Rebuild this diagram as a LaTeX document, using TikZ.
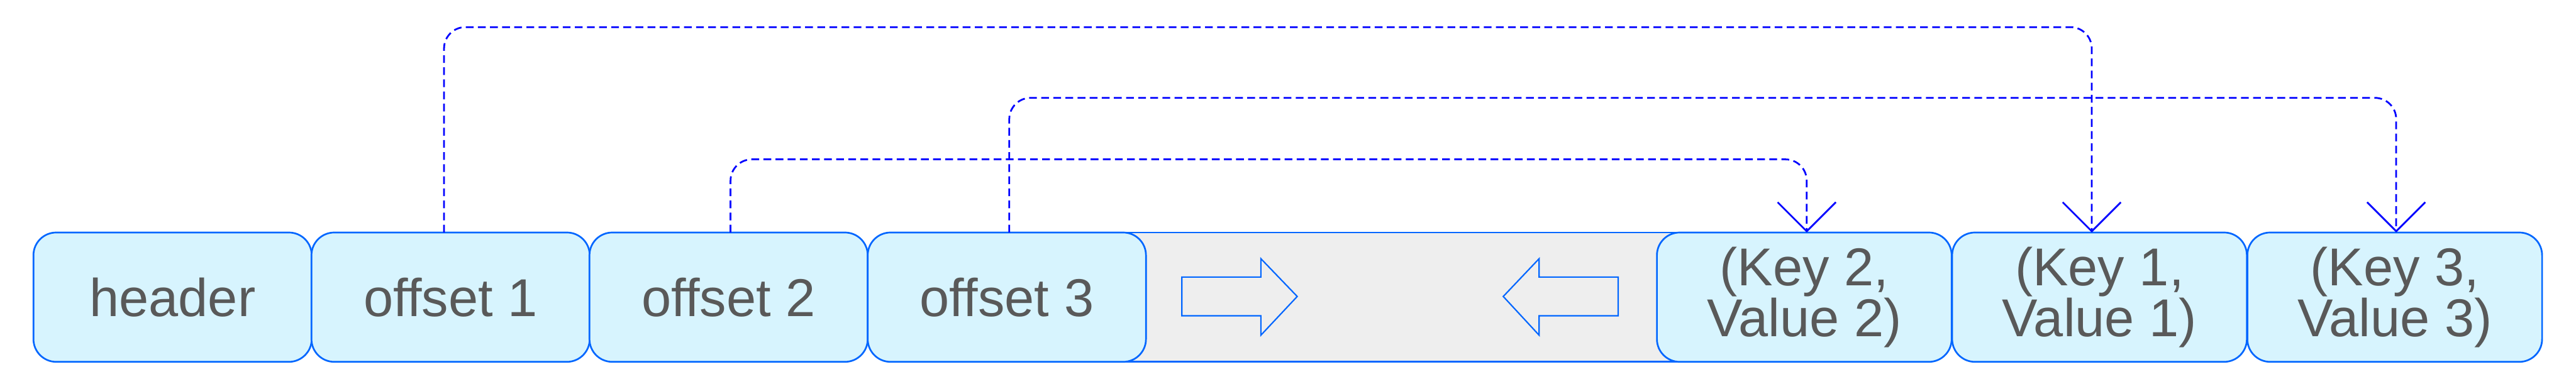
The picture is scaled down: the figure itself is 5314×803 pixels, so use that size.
\documentclass[tikz,border=0pt]{standalone}
\usepackage{fontspec}
\setmainfont{Liberation Sans}
\usetikzlibrary{arrows.meta,calc}
\definecolor{boxfill}{HTML}{D7F4FE}
\definecolor{boxline}{HTML}{0066FF}
\definecolor{linkblue}{HTML}{0000FF}
\definecolor{txtgray}{HTML}{595959}
\definecolor{freegray}{HTML}{EEEEEE}
\begin{document}
\begin{tikzpicture}[x=0.5pt,y=-0.5pt,
  cell/.style={draw=boxline, line width=1.75pt, fill=boxfill, rounded corners=23.5pt,
    minimum width=287pt, minimum height=133.5pt, inner sep=0pt, outer sep=0pt,
    text=txtgray, font=\fontsize{55}{50}\selectfont, align=center},
  kvcell/.style={cell, minimum width=304pt},
  link/.style={draw=linkblue, line width=1.8pt, dash pattern=on 8pt off 4.5pt,
    rounded corners=22pt, -{Straight Barb[length=30pt,width=60pt,line width=1.8pt]}},
  blockarrow/.style={draw=boxline, line width=1.4pt, line join=miter}]
\useasboundingbox (0,0) rectangle (5314,803);
% free space band
\fill[freegray] (2200,480) rectangle (3600,747);
\draw[boxline, line width=1.75pt] (2200,480) -- (3600,480) (2200,747) -- (3600,747);
% cells
\node[cell] (hdr) at (356,613.5) {header};
\node[cell] (o1) at (929.5,613.5) {offset 1};
\node[cell] (o2) at (1503,613.5) {offset 2};
\node[cell] (o3) at (2077,613.5) {offset 3};
\node[kvcell] (k2) at (3722,613.5) {(Key 2,\\Value 2)};
\node[kvcell] (k1) at (4331,613.5) {(Key 1,\\Value 1)};
\node[kvcell] (k3) at (4940,613.5) {(Key 3,\\Value 3)};
% block arrows
\draw[blockarrow] (2438,572) -- (2601,572) -- (2601,534) -- (2676,612) -- (2601,692) -- (2601,652) -- (2438,652) -- cycle;
\draw[blockarrow] (3338,572) -- (3175,572) -- (3175,534) -- (3101,612) -- (3175,692) -- (3175,652) -- (3338,652) -- cycle;
% links
\draw[link] ([xshift=-6.75pt]o1.north) -- ++(0,-424) -| ([xshift=-8pt]k1.north);
\draw[link] ([xshift=2pt]o2.north) -- ++(0,-151) -| ([xshift=2.5pt]k2.north);
\draw[link] ([xshift=2.5pt]o3.north) -- ++(0,-278) -| ([xshift=1.5pt]k3.north);
\end{tikzpicture}
\end{document}
